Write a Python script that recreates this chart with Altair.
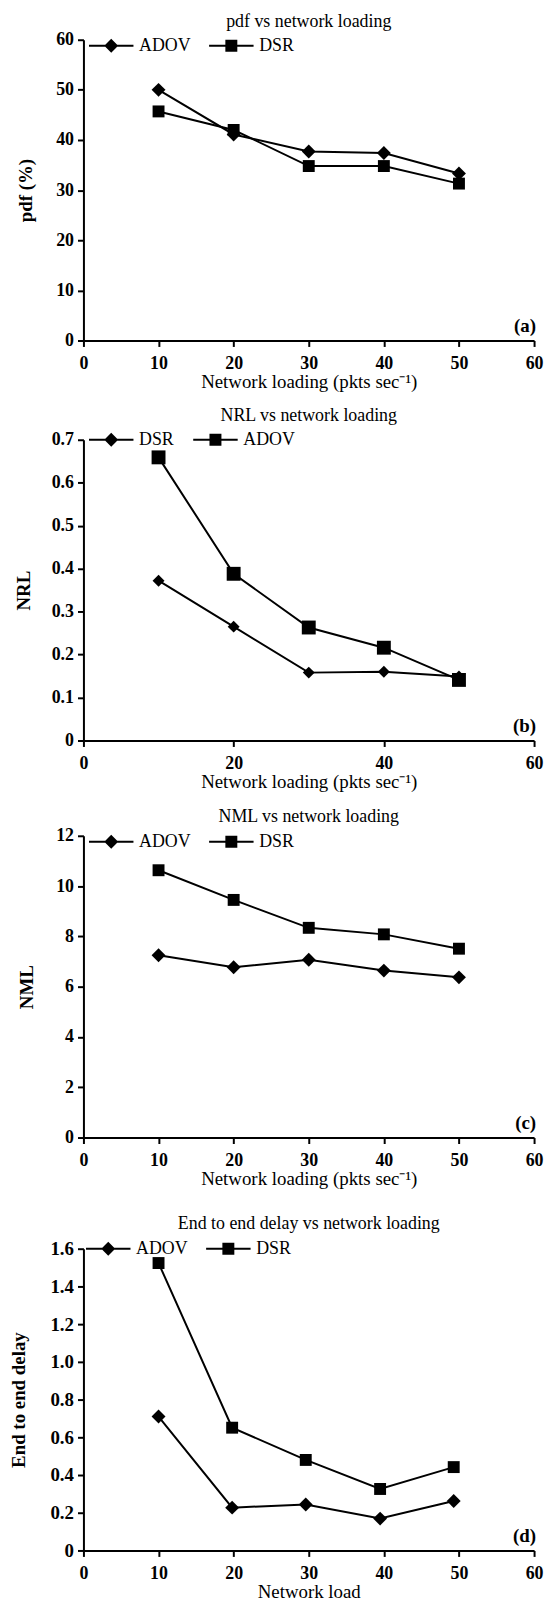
import altair as alt
import pandas as pd

FONT = "Liberation Serif"

# ---- data ----
load_x = [10, 20, 30, 40, 50]
load_x_d = [10, 19.8, 29.6, 39.5, 49.3]

pdf_adov = [50.0, 41.1, 37.7, 37.4, 33.3]
pdf_dsr = [45.7, 42.0, 34.8, 34.8, 31.3]

nrl_dsr = [0.372, 0.265, 0.158, 0.160, 0.149]
nrl_adov = [0.659, 0.388, 0.263, 0.216, 0.141]

nml_adov = [7.25, 6.77, 7.07, 6.64, 6.37]
nml_dsr = [10.63, 9.45, 8.34, 8.08, 7.51]

delay_adov = [0.71, 0.227, 0.244, 0.169, 0.262]
delay_dsr = [1.524, 0.651, 0.48, 0.326, 0.442]

titles = ["pdf vs network loading", "NRL vs network loading",
          "NML vs network loading", "End to end delay vs network loading"]
y_titles = ["pdf (%)", "NRL", "NML", "End to end delay"]
x_titles = ["Network loading (pkts sec\u207b\u00b9)", "Network loading (pkts sec\u207b\u00b9)",
            "Network loading (pkts sec\u207b\u00b9)", "Network load"]
tags = ["(a)", "(b)", "(c)", "(d)"]

x_ticks_10 = [0, 10, 20, 30, 40, 50, 60]
x_ticks_20 = [0, 20, 40, 60]
y_ticks_a = [0, 10, 20, 30, 40, 50, 60]
y_ticks_b = [0, 0.1, 0.2, 0.3, 0.4, 0.5, 0.6, 0.7]
y_ticks_c = [0, 2, 4, 6, 8, 10, 12]
y_ticks_d = [0, 0.2, 0.4, 0.6, 0.8, 1.0, 1.2, 1.4, 1.6]

# legend symbols: short line (thin bar) with the marker in the middle
# (path unit = sqrt(symbolSize)/2 = 7 px)
PATH_D = "M-3.2,-0.15H3.2V0.15H-3.2Z M0,-1L1,0L0,1L-1,0Z"
PATH_S = "M-3.2,-0.15H3.2V0.15H-3.2Z M-0.86,-0.86H0.86V0.86H-0.86Z"

INT_FMT = "format(datum.value, 'd')"
DEC_FMT = "datum.value == 0 ? '0' : format(datum.value, '.1f')"


def panel(xs, diamond, square, ymax, xt, yt, title, ytitle, xtitle, tag,
          height, yfmt, leg_x, leg_center, title_dy, ytitle_pad, ylabel_size):
    dname, dvals = diamond
    sname, svals = square
    df = pd.DataFrame({
        "load": list(xs) + list(xs),
        "value": list(dvals) + list(svals),
        "series": [dname] * len(xs) + [sname] * len(xs),
    })
    x = alt.X("load:Q", scale=alt.Scale(domain=[0, 60], nice=False),
              axis=alt.Axis(values=xt, tickCount=50, title=xtitle, labelFlush=False,
                            labelOverlap=False, labelExpr=INT_FMT))
    y = alt.Y("value:Q", scale=alt.Scale(domain=[0, ymax], nice=False),
              axis=alt.Axis(values=yt, tickCount=50, title=ytitle, labelExpr=yfmt,
                            labelOverlap=False, titlePadding=ytitle_pad,
                            labelFontSize=ylabel_size))
    base = alt.Chart(df)
    line = base.mark_line(color="black", strokeWidth=2).encode(
        x=x, y=y, detail="series:N")
    pts = base.mark_point(filled=True, color="black", opacity=1).encode(
        x=x, y=y,
        shape=alt.Shape(
            "series:N",
            scale=alt.Scale(domain=[dname, sname], range=["diamond", "square"]),
            legend=None),
        size=alt.Size("series:N",
                      scale=alt.Scale(domain=[dname, sname], range=[196, 144]),
                      legend=None),
    )
    # legend-only layer (draws no marks): its shape scale gives line+marker symbols
    leg = base.transform_filter("false").mark_point(
        filled=True, color="black", opacity=1,
    ).encode(
        x=x, y=y,
        shape=alt.Shape(
            "series:N",
            scale=alt.Scale(domain=[dname, sname], range=[PATH_D, PATH_S]),
            legend=alt.Legend(
                title=None, orient="none", legendX=leg_x, legendY=leg_center - 9,
                direction="horizontal", padding=0, symbolSize=196,
                symbolOffset=10, labelOffset=19, columnPadding=18,
                symbolFillColor="black", symbolStrokeWidth=0, symbolOpacity=1,
                labelFont=FONT, labelFontSize=18, labelColor="black",
                labelFontWeight="normal",
            ),
        ),
    )
    tag_mark = alt.Chart(pd.DataFrame({"t": [tag]})).mark_text(
        font=FONT, fontSize=19, fontWeight="bold", color="black",
        align="right", baseline="alphabetic", dx=2, dy=-9,
    ).encode(x=alt.datum(60), y=alt.datum(0), text="t:N")
    title_mark = alt.Chart(pd.DataFrame({"t": [title]})).mark_text(
        font=FONT, fontSize=18, fontWeight="normal", color="black",
        align="center", baseline="alphabetic", dy=-title_dy,
    ).encode(x=alt.datum(30), y=alt.datum(ymax), text="t:N")
    return alt.layer(line, pts, leg, tag_mark, title_mark).resolve_scale(
        shape="independent"
    ).properties(width=454, height=height)


pa = panel(load_x, ("ADOV", pdf_adov), ("DSR", pdf_dsr), 60, x_ticks_10, y_ticks_a,
           titles[0], y_titles[0], x_titles[0], tags[0], 303, INT_FMT,
           9, 6, 13, 20.5, 18)
pb = panel(load_x, ("DSR", nrl_dsr), ("ADOV", nrl_adov), 0.7, x_ticks_20, y_ticks_b,
           titles[1], y_titles[1], x_titles[1], tags[1], 303, DEC_FMT,
           9, 0, 19, 17.5, 18)
pc = panel(load_x, ("ADOV", nml_adov), ("DSR", nml_dsr), 12, x_ticks_10, y_ticks_c,
           titles[2], y_titles[2], x_titles[2], tags[2], 304, INT_FMT,
           9, 6, 14, 19, 18)
pd_ = panel(load_x_d, ("ADOV", delay_adov), ("DSR", delay_dsr), 1.6, x_ticks_10, y_ticks_d,
            titles[3], y_titles[3], x_titles[3], tags[3], 304, DEC_FMT,
            6, 0, 19.5, 22, 19)

PAD = {"left": 0, "top": -2, "right": 0, "bottom": 0}

chart = alt.vconcat(
    alt.vconcat(pa, pb, spacing=100, bounds="flush"),
    alt.vconcat(pc, pd_, spacing=112, bounds="flush"),
    spacing=15,
    padding=PAD,
).configure(
    padding=PAD,
).configure_view(
    stroke="transparent",
).configure_axis(
    domainColor="black", domainWidth=2, tickColor="black", tickWidth=2,
    tickSize=6, grid=False, labelFont=FONT, labelFontSize=18,
    labelFontWeight="bold", labelColor="black", titleFont=FONT,
    titleColor="black", titleFontSize=19, labelOverlap=False,
).configure_axisX(
    labelPadding=8, titlePadding=0, titleFontWeight="normal",
).configure_axisY(
    labelPadding=4, titleFontWeight="bold",
)

chart.save("out.html", embed_options={"renderer": "svg", "actions": False})
